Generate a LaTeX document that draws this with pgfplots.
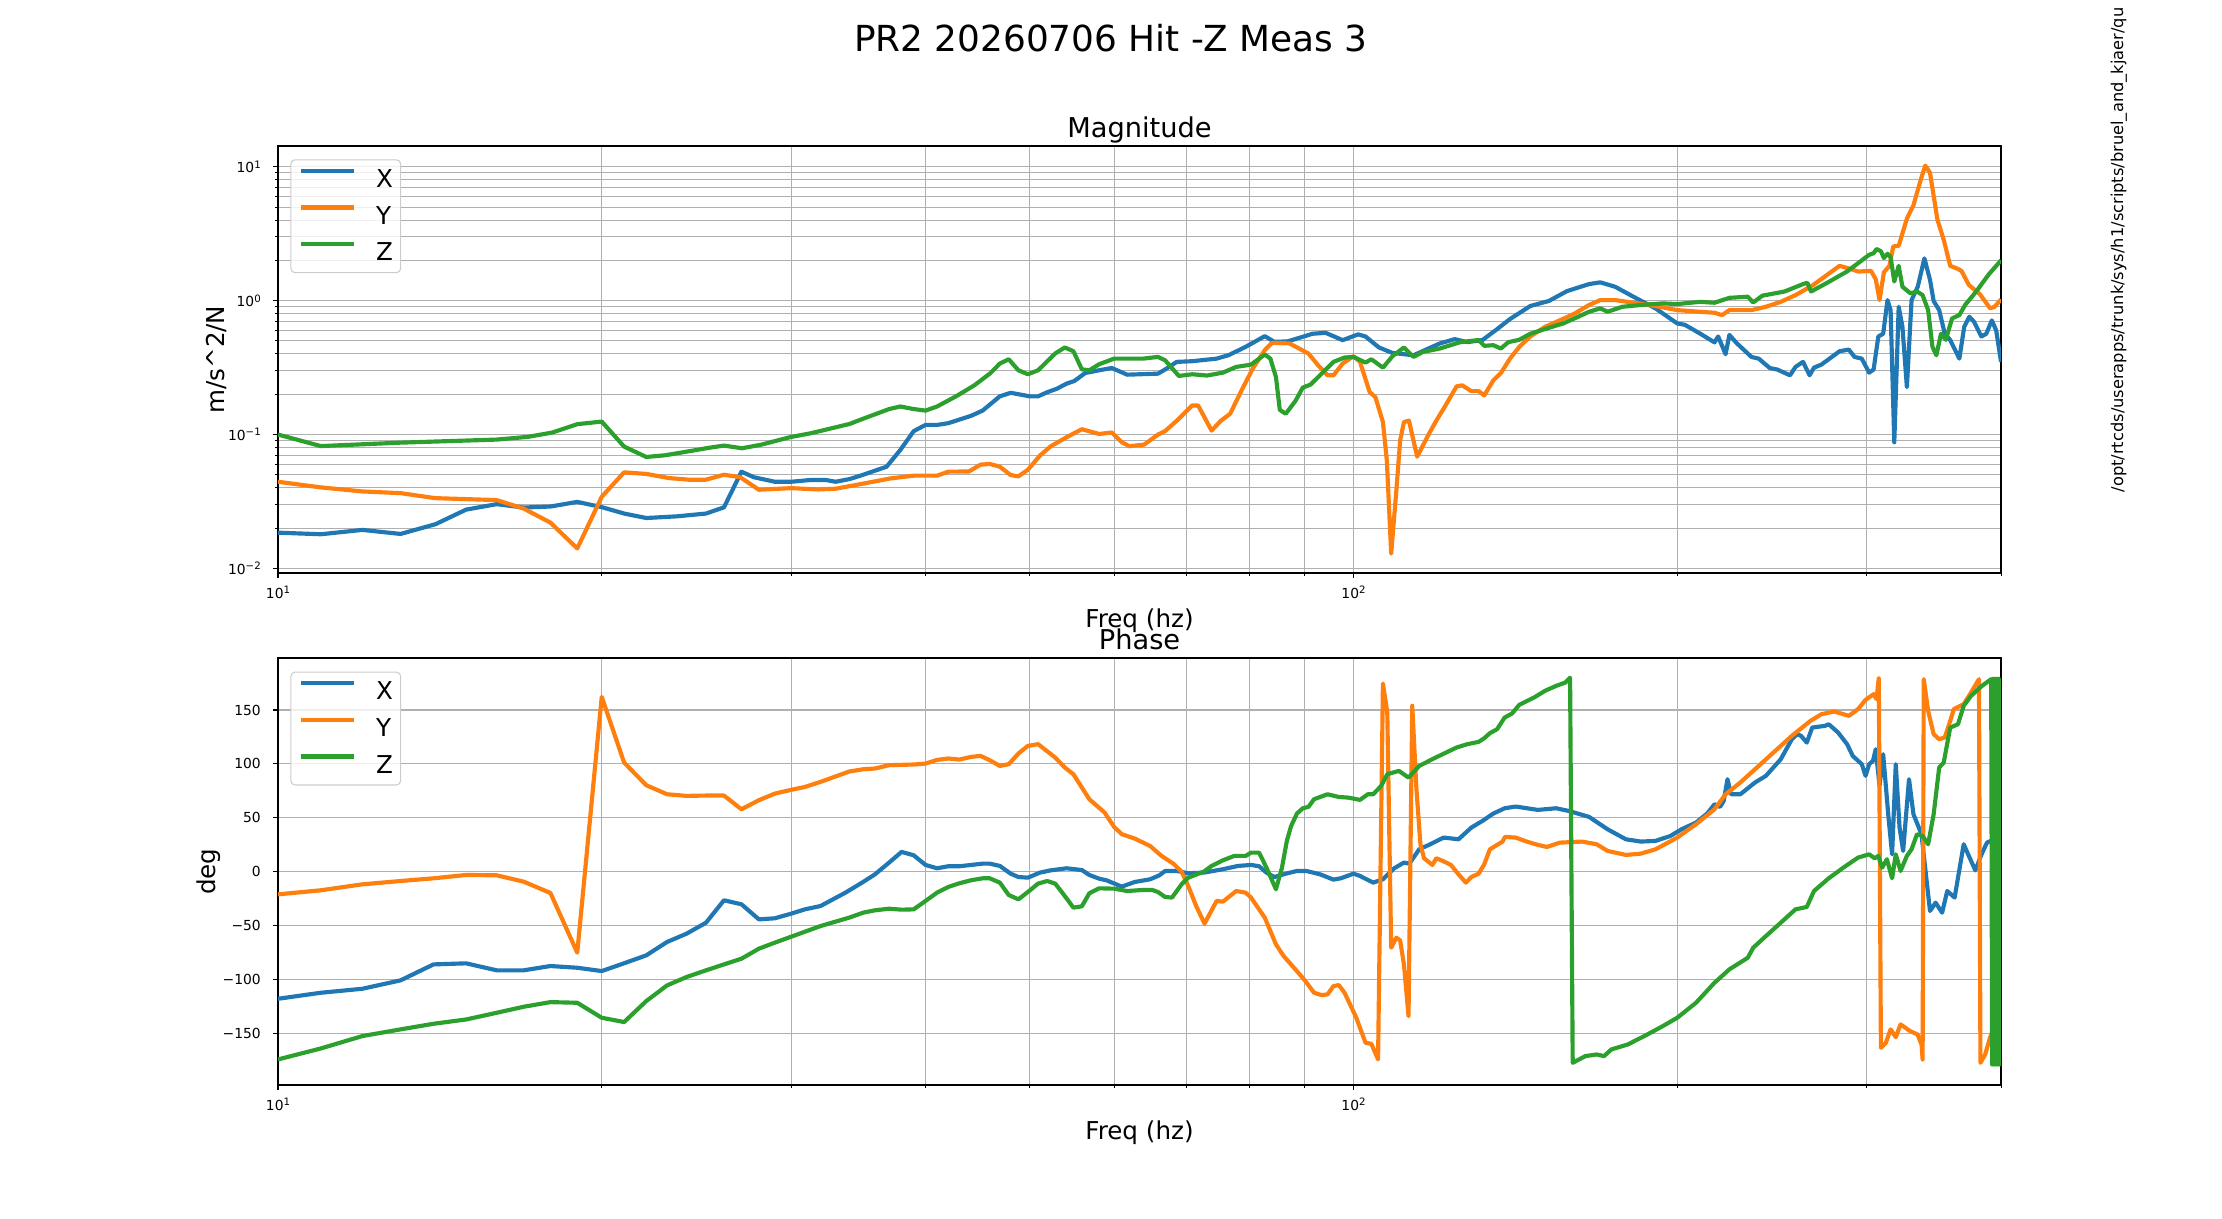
\documentclass[border=0pt]{standalone}
\usepackage{fontspec}
\setmainfont{DejaVu Sans}
\usepackage{pgfplots}
\pgfplotsset{compat=1.18}
\definecolor{cX}{HTML}{1F77B4}
\definecolor{cY}{HTML}{FF7F0E}
\definecolor{cZ}{HTML}{2CA02C}
\definecolor{gridgray}{HTML}{B0B0B0}
\definecolor{legedge}{HTML}{CCCCCC}
\newcommand{\sups}[1]{\raisebox{1.33pt}{\fontsize{2.9}{3}\selectfont #1}}
\pgfplotsset{
  every axis title/.style={at={(0.5,1.0199)}, anchor=base, font=\fontsize{7.75}{9}\selectfont},
  every axis label/.append style={font=\fontsize{7.0}{8.5}\selectfont},
  every tick label/.append style={font=\fontsize{3.94}{4.5}\selectfont},
  every axis plot/.append style={line width=1.18pt, line join=round},
  every axis legend/.append style={at={(0.00714,0.9689)}, anchor=north west,
    font=\fontsize{7.0}{8.5}\selectfont,
    draw=legedge, line width=0.3pt, fill=white, fill opacity=0.8, text opacity=1,
    rounded corners=1.2pt, inner xsep=2.2pt, inner ysep=0.4pt,
    row sep=0pt, column sep=5.65pt,
    nodes={inner sep=0pt, text height=7.44pt, text depth=3pt}},
}
\begin{document}
\begin{tikzpicture}
\useasboundingbox (0,0) rectangle (22.22,12.19);
\clip (0,0) rectangle (22.22,12.19);
\node[anchor=base, font=\fontsize{10.2}{12}\selectfont, inner sep=0pt] at (11.11,11.673) {PR2 20260706 Hit -Z Meas 3};
\node[rotate=90, anchor=base west, font=\fontsize{4.62}{5.5}\selectfont, inner sep=0pt] at (21.23,7.26) {/opt/rtcds/userapps/trunk/sys/h1/scripts/bruel\_and\_kjaer/qu};

% ---------------- Magnitude ----------------
\begin{axis}[at={(2.78cm,6.457cm)}, anchor=south west,
  scale only axis, width=17.23cm, height=4.273cm,
  xmode=log, ymode=log, xmin=10, xmax=400, ymin=0.0092, ymax=14.3,
  xtick={10,100}, xticklabels={10\sups{1},10\sups{2}},
  minor xtick={20,30,40,50,60,70,80,90,200,300,400},
  ytick={0.01,0.1,1,10}, yticklabels={10\sups{−2},10\sups{−1},10\sups{0},10\sups{1}},
  minor ytick={0.02,0.03,0.04,0.05,0.06,0.07,0.08,0.09,0.2,0.3,0.4,0.5,0.6,0.7,0.8,0.9,2,3,4,5,6,7,8,9},
  grid=both,
  major grid style={draw=gridgray, line width=0.3pt},
  minor grid style={draw=gridgray, line width=0.3pt},
  axis line style={line width=0.45pt},
  tick align=outside, xtick pos=left, ytick pos=left,
  major tick length=1.38pt, minor tick length=0.79pt,
  tick style={black, line width=0.3pt},
  xticklabel style={yshift=1.2pt},
  no markers,
  legend image code/.code={\draw[#1] (0cm,2.5pt) -- (0.535cm,2.5pt);},
  legend cell align=left,
  title={Magnitude}, xlabel={Freq (hz)}, ylabel={m/s\textasciicircum 2/N},
  xlabel style={at={(axis description cs:0.5,-0.1275)}, anchor=base},
  ylabel style={at={(axis description cs:-0.03134,0.5)}, anchor=base},
]
\addplot[cX] coordinates {
(10,0.0185) (10.96,0.0180) (11.98,0.0194) (13.0,0.0181) (14.01,0.0214) (14.96,0.0275)
(15.97,0.0302) (16.92,0.0285) (17.92,0.029) (18.98,0.0314) (20,0.0287) (20.98,0.0257)
(22.0,0.0238) (23.5,0.0245) (25.0,0.0257) (25.98,0.0286) (26.97,0.0528) (27.7,0.0480)
(28.97,0.0444) (30,0.0444) (31.3,0.0458) (32.3,0.0458) (33.0,0.0444) (34.0,0.0465)
(34.8,0.0493) (36.8,0.0575) (37.9,0.0767) (39.0,0.106) (40,0.118) (41.0,0.118)
(42.0,0.1216) (44.1,0.138) (45.2,0.151) (46.9,0.193) (48.0,0.205) (50,0.193)
(50.9,0.193) (51.9,0.207) (53.0,0.22) (54.1,0.24) (55.0,0.251) (56.3,0.288)
(58.0,0.302) (59.6,0.314) (61.6,0.28) (65.8,0.285) (66.8,0.306) (68.5,0.349)
(70.8,0.353) (74.6,0.369) (76.5,0.391) (79.4,0.452) (82.7,0.543) (84.4,0.493)
(86.8,0.496) (89.0,0.527) (91.6,0.566) (94.2,0.575) (97.7,0.507) (101,0.56)
(102.6,0.54) (105.6,0.447) (108.7,0.407) (113.7,0.391) (116.5,0.427) (120.3,0.479)
(124.2,0.516) (127.6,0.49) (131.8,0.508) (136.0,0.613) (139.8,0.729) (146.0,0.912)
(151.9,0.994) (158.0,1.18) (165.6,1.33) (169.6,1.37) (175.1,1.27) (182.1,1.07)
(190.9,0.876) (200,0.676) (203.3,0.66) (209.9,0.569) (216.6,0.488) (218.3,0.54)
(221.8,0.398) (223.6,0.555) (227.1,0.482) (234.4,0.38) (238.1,0.369) (243.8,0.314)
(247.7,0.306) (254.6,0.277) (257.6,0.32) (261.8,0.349) (265.5,0.277) (268.0,0.316)
(272.3,0.333) (283.1,0.419) (288.8,0.431) (292.3,0.38) (296.9,0.369) (301.6,0.29)
(304.5,0.306) (307.6,0.54) (310.8,0.566) (313.7,1.01) (315.8,0.85) (318.3,0.0876)
(321.3,0.9) (323.9,0.638) (327.0,0.226) (330.3,1.01) (334.7,1.27) (339.5,2.07)
(343.6,1.43) (346.3,0.993) (350.4,0.85) (354.6,0.566) (358.8,0.508) (365.9,0.369)
(369.7,0.638) (373.8,0.759) (377.6,0.695) (383.6,0.54) (387.6,0.566) (392.2,0.712)
(395.9,0.6) (400,0.349)
};
\addlegendentry{X}
\addplot[cY] coordinates {
(10,0.0444) (10.96,0.0403) (11.98,0.0376) (13.0,0.0365) (14.0,0.0335) (15.97,0.0324)
(16.92,0.028) (17.92,0.022) (18.98,0.0141) (20,0.0343) (20.98,0.0522) (22.0,0.0508)
(23.1,0.0473) (24.1,0.046) (25.0,0.046) (25.98,0.0501) (26.9,0.048) (28.0,0.0387)
(30,0.0398) (31.8,0.0389) (33.0,0.0394) (34.3,0.0417) (35.9,0.0447) (37.1,0.047)
(39.0,0.0493) (41.0,0.0493) (42.0,0.0528) (43.9,0.053) (45.0,0.0596) (45.9,0.0603)
(46.9,0.0575) (48.0,0.0498) (48.8,0.0487) (49.8,0.0546) (51.1,0.0696) (52.3,0.0818)
(54.1,0.0955) (55.9,0.1096) (58.0,0.101) (59.6,0.1035) (60.9,0.0876) (61.9,0.0818)
(63.9,0.0842) (65.8,0.1) (66.8,0.106) (68.8,0.131) (70.8,0.165) (71.7,0.165)
(73.8,0.107) (75.3,0.127) (76.8,0.143) (78.7,0.214) (80.6,0.311) (82.7,0.427)
(84.0,0.484) (87.2,0.479) (89.0,0.439) (90.8,0.403) (92.7,0.329) (94.6,0.277)
(95.8,0.277) (97.7,0.339) (100,0.385) (101.4,0.349) (103.5,0.208) (104.8,0.19)
(106.5,0.124) (107.4,0.0638) (108.4,0.0129) (109.6,0.038) (110.5,0.0902) (111.4,0.124)
(112.6,0.127) (114.6,0.0684) (117.5,0.101) (119.4,0.127) (121.5,0.16) (124.7,0.229)
(126.2,0.233) (128.7,0.211) (130.7,0.211) (132.3,0.196) (134.9,0.254) (137.1,0.288)
(139.8,0.369) (142.6,0.452) (146.0,0.54) (150.7,0.638) (155.5,0.712) (160.5,0.8)
(165.6,0.928) (169.6,1.01) (175.1,1.01) (182.1,0.965) (190.9,0.912) (200,0.85)
(209.9,0.826) (216.6,0.812) (220.1,0.78) (223.6,0.85) (234.4,0.85) (241.8,0.9)
(249.6,0.98) (257.6,1.10) (267.2,1.30) (275.7,1.56) (283.1,1.82) (288.8,1.74)
(294.7,1.65) (302.8,1.67) (305.9,1.445) (308.4,1.01) (311.3,1.63) (315.0,1.82)
(317.6,2.54) (321.3,2.57) (327.0,4.10) (331.6,5.16) (336.9,8.04) (340.1,10.2)
(343.6,9.0) (349.1,4.03) (353.8,2.85) (358.8,1.82) (364.0,1.74) (367.5,1.67)
(373.4,1.31) (382.3,1.12) (390.8,0.876) (394.5,0.9) (400,1.02)
};
\addlegendentry{Y}
\addplot[cZ] coordinates {
(10,0.100) (10.96,0.082) (13.0,0.087) (15.97,0.0917) (17.06,0.096) (17.99,0.1035)
(18.98,0.1195) (20,0.125) (20.98,0.0813) (22.0,0.068) (22.9,0.070) (24.1,0.075)
(25.1,0.0794) (25.98,0.0827) (27.0,0.079) (28.1,0.0838) (30,0.096) (31.3,0.1023)
(34.0,0.120) (34.8,0.129) (37.0,0.155) (37.9,0.162) (39.0,0.155) (40,0.151)
(41.0,0.162) (42.7,0.193) (44.4,0.233) (45.9,0.285) (46.9,0.339) (47.8,0.365)
(48.8,0.302) (49.8,0.282) (50.9,0.302) (52.8,0.403) (53.9,0.447) (54.9,0.419)
(55.9,0.307) (56.8,0.302) (58.0,0.335) (59.9,0.369) (63.7,0.369) (65.8,0.38)
(66.8,0.359) (68.8,0.274) (70.8,0.282) (73.1,0.276) (75.6,0.29) (77.8,0.32)
(80.3,0.333) (82.7,0.396) (83.7,0.369) (84.7,0.269) (85.4,0.153) (86.5,0.143)
(88.3,0.178) (89.7,0.224) (91.2,0.236) (93.4,0.285) (95.8,0.349) (98.1,0.376)
(100,0.38) (102.6,0.345) (103.9,0.365) (106.5,0.316) (108.7,0.385) (111.4,0.447)
(113.7,0.38) (116.0,0.414) (120.3,0.439) (125.7,0.49) (130.7,0.508) (132.3,0.46)
(134.9,0.465) (137.1,0.439) (139.3,0.49) (142.6,0.51) (146.0,0.566) (153.0,0.638)
(156.7,0.676) (161.8,0.759) (165.6,0.826) (169.6,0.876) (172.3,0.826) (177.8,0.9)
(185.0,0.928) (194.0,0.954) (200,0.943) (209.9,0.98) (216.6,0.965) (223.6,1.05)
(232.6,1.07) (235.3,0.97) (240.0,1.09) (251.6,1.17) (261.8,1.33) (264.2,1.36)
(266.3,1.17) (275.7,1.36) (287.6,1.65) (296.9,2.0) (301.6,2.2) (304.5,2.26)
(306.4,2.43) (309.3,2.34) (311.3,2.08) (313.7,2.24) (315.8,2.11) (318.3,1.39)
(321.3,1.82) (323.9,1.27) (329.5,1.135) (334.2,1.17) (338.2,1.10) (342.2,0.85)
(345.4,0.452) (348.3,0.391) (351.8,0.566) (355.4,0.51) (360.2,0.737) (365.9,0.78)
(370.4,0.928) (379.3,1.17) (389.9,1.58) (400,2.0)
};
\addlegendentry{Z}
\end{axis}

% ---------------- Phase ----------------
\begin{axis}[at={(2.78cm,1.34cm)}, anchor=south west,
  scale only axis, width=17.23cm, height=4.267cm,
  xmode=log, xmin=10, xmax=400, ymin=-198, ymax=198,
  xtick={10,100}, xticklabels={10\sups{1},10\sups{2}},
  minor xtick={20,30,40,50,60,70,80,90,200,300,400},
  ytick={-150,-100,-50,0,50,100,150}, yticklabels={−150,−100,−50,0,50,100,150},
  grid=both,
  major grid style={draw=gridgray, line width=0.3pt},
  minor grid style={draw=gridgray, line width=0.3pt},
  axis line style={line width=0.45pt},
  tick align=outside, xtick pos=left, ytick pos=left,
  major tick length=1.38pt, minor tick length=0.79pt,
  tick style={black, line width=0.3pt},
  xticklabel style={yshift=1.2pt},
  no markers,
  legend image code/.code={\draw[#1] (0cm,2.5pt) -- (0.535cm,2.5pt);},
  legend cell align=left,
  title={Phase}, xlabel={Freq (hz)}, ylabel={deg},
  xlabel style={at={(axis description cs:0.5,-0.1277)}, anchor=base},
  ylabel style={at={(axis description cs:-0.03627,0.5)}, anchor=base},
]
\addplot[cX] coordinates {
(10,-118) (10.96,-112.4) (11.98,-108.7) (13.0,-100.9) (13.95,-86.1) (14.96,-85.1)
(15.97,-91.6) (16.92,-91.6) (17.92,-87.6) (18.98,-89.2) (20,-92.3) (20.93,-85.4)
(22.0,-77.7) (23.0,-65.3) (23.98,-57.6) (25.0,-47.4) (25.98,-26.6) (26.97,-30.3)
(28.0,-44.3) (28.97,-43.3) (30,-39.0) (30.9,-35.0) (31.95,-31.9) (33.7,-19.5)
(35.0,-9.6) (35.9,-2.5) (37.0,8.4) (38.0,18.3) (39.0,15.2) (40,6.2) (41.0,3.1)
(42.0,5.0) (43.0,5.0) (44.1,6.2) (45.2,7.4) (45.9,7.4) (46.9,5.3) (48.0,-1.9)
(48.8,-5.0) (49.8,-5.6) (51.1,-0.9) (52.3,1.2) (54.1,3.1) (55.9,1.5) (56.8,-3.1)
(58.0,-6.5) (58.9,-8.0) (60.9,-13.9) (62.6,-9.6) (64.7,-7.1) (66.0,-3.4) (66.8,0.6)
(68.5,0.6) (70.2,-1.5) (72.6,-0.9) (75.6,2.2) (78.1,5.3) (80.3,6.2) (81.7,5.0)
(83.0,-0.9) (84.4,-5.0) (86.8,-1.5) (88.6,0.6) (90.4,0.6) (93.1,-2.5) (95.8,-7.4)
(97.3,-6.2) (100,-1.9) (101.4,-4.0) (104.3,-10.2) (106.5,-7.1) (109.1,3.1)
(111.4,8.4) (112.7,7.4) (115.1,20.7) (117.5,24.8) (121.3,31.6) (125.2,30.0)
(128.7,40.9) (131.8,47.1) (134.9,53.9) (138.2,58.8) (141.5,60.4) (148.4,57.3)
(154.3,58.8) (158.6,56.3) (165.6,50.8) (172.3,39.3) (179.2,30.0) (185.0,27.9)
(190.9,28.5) (197.1,33.1) (201.8,39.3) (208.2,45.5) (213.2,53.9) (216.6,62.5)
(219.2,60.1) (220.9,65.6) (222.7,85.8) (224.4,71.8) (228.9,71.8) (236.2,82.7)
(241.8,88.9) (249.6,104.3) (255.6,122.9) (258.6,127.6) (260.7,126.0) (263.9,119.8)
(267.0,133.7) (274.4,135.3) (276.6,136.8) (282.2,129.1) (287.7,118.3) (291.2,107.4)
(296.9,99.7) (299.3,88.9) (301.6,99.7) (304.1,102.8) (305.9,113.6) (308.4,79.6)
(310.8,109.0) (314.4,50.2) (316.8,16.1) (319.3,99.7) (321.9,40.9) (324.4,19.2)
(328.5,85.8) (331.6,53.3) (337.4,34.7) (339.5,9.9) (343.6,-36.5) (347.7,-28.8)
(352.6,-38.1) (356.5,-18.0) (362.2,-24.1) (369.3,25.4) (375.2,9.9) (378.6,1.2)
(383.7,16.1) (388.2,26.9) (391.3,28.5) (396,27)
};
\addlegendentry{X}
\addplot[cY] coordinates {
(10,-21.1) (10.96,-17.3) (11.98,-11.8) (13.0,-8.7) (13.95,-6.2) (14.96,-3.1)
(15.97,-3.4) (16.92,-9.3) (17.92,-19.8) (18.98,-75.2) (20,162.2) (20.98,101.2)
(22.0,80.2) (23.0,71.8) (23.98,70.3) (25.0,70.6) (25.98,70.6) (26.97,57.9)
(28.0,66.3) (28.97,72.4) (30,75.9) (30.9,78.6) (31.95,83.3) (33.97,92.9) (35.0,95.0)
(35.9,95.7) (37.0,98.8) (39.0,99.4) (40,100.3) (41.0,103.7) (42.0,105.0) (43.0,104.0)
(44.1,106.5) (45.0,107.4) (45.9,103.4) (46.9,98.1) (47.8,99.7) (48.8,109.6)
(49.8,116.7) (50.9,118.3) (52.8,105.9) (53.9,96.6) (54.9,90.4) (56.8,67.2)
(58.7,54.8) (59.9,41.5) (60.9,34.7) (62.6,30.7) (64.7,23.8) (66.3,14.6) (68.0,7.4)
(69.2,0) (70.2,-13.3) (71.4,-31.9) (72.7,-48.3) (74.6,-27.2) (75.6,-27.9)
(77.8,-18.0) (79.4,-19.5) (80.3,-24.1) (82.7,-42.7) (84.7,-67.5) (86.1,-78.3)
(88.3,-90.7) (90.1,-100.9) (91.9,-112.4) (93.4,-114.6) (94.6,-113.9) (95.8,-106.2)
(96.9,-105.3) (98.1,-112.4) (100.6,-135.6) (102.6,-158.8) (103.9,-159.8)
(105.4,-174.3) (106.5,174.6) (107.5,147.7) (108.4,-70.6) (109.6,-61.3) (110.5,-63.8)
(111.4,-86.1) (112.5,-134.1) (113.4,153.9) (114.4,78.0) (115.4,25.4) (116.3,12.4)
(118.4,6.2) (119.4,12.4) (121,10) (123.2,6.2) (125.2,-2.5) (127.2,-10.2) (128.7,-5.0)
(130.7,-1.9) (132.3,6.8) (133.9,20.7) (136.0,24.8) (137.6,27.9) (138.3,32.2)
(141.5,31.6) (144.9,27.9) (148.4,24.8) (151.3,22.9) (155.5,26.9) (163.1,27.9)
(168.3,25.4) (172.3,19.2) (179.2,15.5) (185.0,16.7) (190.9,20.7) (200,31.6)
(208.2,44.0) (216.6,57.9) (221.8,71.8) (228.9,82.7) (236.2,95.0) (245.7,110.5)
(255.6,126.0) (266.0,139.9) (272.3,146.1) (279.9,148.6) (288.8,144.6) (294.5,150.8)
(299.3,159.4) (304.5,164.7) (306.4,160.1) (307.9,179.6) (309.3,-163.5) (312.6,-158.8)
(315.8,-146.4) (319.3,-153.6) (322.6,-141.8) (329.3,-148.0) (334.5,-151.1)
(337.4,-160.4) (338.2,-174.3) (339.0,178.6) (342.2,149.2) (346.3,127.6) (350.4,122.9)
(354.6,124.5) (358.8,139.9) (361.6,150.8) (369.3,155.4) (375.2,166.3) (381.6,178.6)
(382.8,-177.4) (386.7,-169.7) (390.7,-154.2) (393,-148)
};
\addlegendentry{Y}
\addplot[cZ] coordinates {
(10,-174.3) (10.96,-164.1) (11.98,-152.6) (13.0,-146.4) (13.95,-141.2) (14.96,-137.2)
(15.97,-131.0) (16.92,-125.4) (17.92,-121.1) (18.98,-121.7) (20,-135.6) (20.98,-139.6)
(22.0,-120.1) (23.0,-105.6) (23.98,-97.8) (25.0,-91.6) (25.98,-86.1) (26.97,-80.8)
(28.0,-71.5) (28.97,-65.9) (30,-60.4) (31.95,-50.5) (33.97,-42.7) (35.0,-38.1)
(35.9,-35.9) (37.0,-34.4) (38.0,-35.3) (39.0,-35.0) (40,-27.2) (41.0,-19.5)
(42.0,-14.2) (43.0,-10.8) (44.1,-8.0) (45.2,-6.2) (45.9,-6.2) (46.9,-10.2)
(47.8,-21.7) (48.8,-25.7) (49.8,-18.9) (50.9,-11.1) (51.9,-8.7) (52.8,-11.1)
(53.6,-19.5) (54.9,-33.4) (55.9,-32.2) (56.8,-20.1) (58.0,-15.5) (59.9,-15.8)
(61.6,-18.0) (63.7,-17.0) (65.0,-17.0) (65.8,-18.9) (66.8,-23.5) (67.8,-24.1)
(69.2,-11.8) (70.2,-5.6) (72.6,0) (73.8,5.3) (75.6,10.5) (77.5,14.6) (79.4,14.6)
(80.3,17.6) (81.7,17.6) (83.0,3.7) (84.7,-16.4) (85.8,3.7) (86.7,28.5) (87.5,42.4)
(88.6,53.9) (89.7,58.8) (90.8,60.1) (91.9,67.2) (94.6,71.8) (96.9,69.3) (98.9,68.7)
(101.4,66.6) (103.1,71.8) (104.3,71.8) (106.1,79.6) (107.5,90.4) (110.2,93.5)
(112.5,87.3) (115.1,98.1) (118.9,105.3) (124.7,115.2) (127.6,118.3) (130.7,120.4)
(132.3,123.8) (133.9,128.5) (136.0,132.2) (138.2,143.0) (140.4,146.7) (142.6,154.8)
(147.2,161.6) (150.7,167.8) (154.3,172.4) (157.4,175.5) (159.0,180) (159.9,-177.4)
(164.3,-171.2) (168.3,-169.7) (171.0,-171.2) (173.7,-165.0) (179.9,-160.4)
(186.4,-152.6) (194.0,-143.3) (200,-135.6) (208.2,-121.7) (216.6,-103.1)
(223.6,-90.7) (232.6,-79.9) (235.3,-70.6) (241.8,-59.8) (249.6,-47.4) (257.6,-35.0)
(263.9,-32.8) (268.0,-18.0) (276.6,-6.2) (285.4,3.7) (294.5,13.0) (301.6,16.1)
(305.2,12.4) (307.6,14.6) (310.1,3.7) (313.3,11.5) (316.8,-6.2) (319.3,16.1)
(322.6,0.6) (327.0,14.6) (330.3,20.7) (334.2,34.7) (338.2,33.1) (342.2,25.4)
(346.3,53.3) (350.4,96.6) (353.8,101.2) (358.8,133.7) (364.8,136.8) (369.3,153.9)
(375.2,163.2) (384.1,172.4) (391.7,178.6) (392.5,-179) (393.3,179) (394.2,-179)
(395,179) (395.8,-179) (396.6,179) (397.4,-179) (398.2,179) (399,-179) (399.8,179)
};
\addlegendentry{Z}
\end{axis}
\end{tikzpicture}
\end{document}
